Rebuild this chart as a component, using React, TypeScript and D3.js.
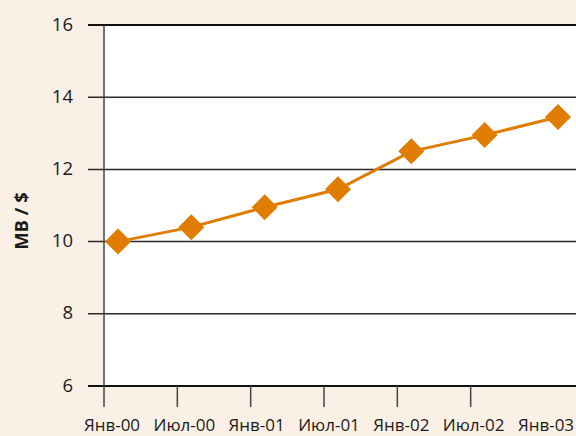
import React from "react";
import * as d3 from "d3";

const categories = ["Янв-00", "Июл-00", "Янв-01", "Июл-01", "Янв-02", "Июл-02", "Янв-03"];
const values = [10.0, 10.4, 10.95, 11.45, 12.5, 12.95, 13.45];
const yTicks = [6, 8, 10, 12, 14, 16];
const yTitle = "МВ / $";

const W = 576;
const H = 436;
const FONT = "'Open Sans', 'Noto Sans', sans-serif";

export default function App() {
  const x = d3.scaleLinear().domain([0, 6]).range([104, 544]);
  const xLabel = d3.scaleLinear().domain([0, 6]).range([112, 546]);
  const y = d3.scaleLinear().domain([6, 16]).range([386, 25]);
  const ptOff = 14;

  const line = d3
    .line<number>()
    .x((_, i) => x(i) + ptOff)
    .y((d) => y(d));

  const diamond = d3.symbol().type(d3.symbolDiamond2).size(430)();

  return (
    <svg
      width={W}
      height={H}
      style={{ position: "absolute", left: 0, top: 0, display: "block" }}
    >
      <rect x={0} y={0} width={W} height={H} fill="#FAF0E5" />
      <rect x={x(0)} y={y(16)} width={W - x(0)} height={y(6) - y(16)} fill="#FFFFFF" />
      {yTicks.map((t) => (
        <line
          key={"g" + t}
          x1={88}
          x2={W}
          y1={y(t)}
          y2={y(t)}
          stroke={t === 16 || t === 6 ? "#111" : "#2a2a2a"}
          strokeWidth={t === 16 || t === 6 ? 2 : 1.5}
        />
      ))}
      <line x1={x(0)} x2={x(0)} y1={y(16)} y2={407} stroke="#444" strokeWidth={1.5} />
      {categories.slice(1, 6).map((c, i) => (
        <line
          key={"t" + c}
          x1={x(i + 1)}
          x2={x(i + 1)}
          y1={y(6)}
          y2={407}
          stroke="#444"
          strokeWidth={1.5}
        />
      ))}
      {yTicks.map((t) => (
        <text
          key={"yl" + t}
          x={73}
          y={y(t)}
          dy="0.3em"
          textAnchor="end"
          fontFamily={FONT}
          fontSize={18.5}
          fill="#1a1a1a"
        >
          {t}
        </text>
      ))}
      {categories.map((c, i) => (
        <text
          key={"xl" + c}
          x={xLabel(i)}
          y={431}
          textAnchor="middle"
          fontFamily={FONT}
          fontSize={17}
          fill="#1a1a1a"
        >
          {c}
        </text>
      ))}
      <text
        transform={`translate(27.5,221) rotate(-90)`}
        textAnchor="middle"
        fontFamily={FONT}
        fontSize={18.5}
        fontWeight="bold"
        fill="#1a1a1a"
      >
        {yTitle}
      </text>
      <path d={line(values) || ""} fill="none" stroke="#E07C00" strokeWidth={3} />
      {values.map((v, i) => (
        <path
          key={"p" + i}
          d={diamond || ""}
          transform={`translate(${x(i) + ptOff},${y(v)})`}
          fill="#E07C00"
        />
      ))}
    </svg>
  );
}
